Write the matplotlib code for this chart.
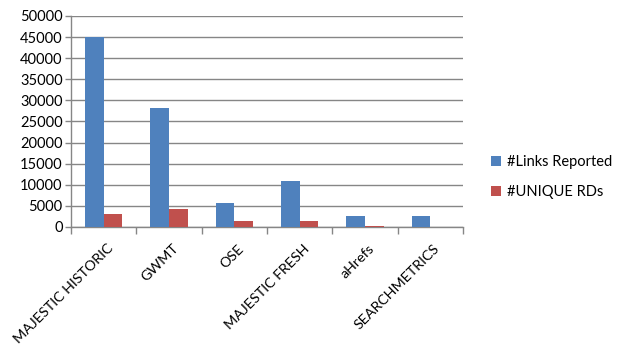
import numpy as np
import matplotlib.pyplot as plt

categories = ['MAJESTIC HISTORIC', 'GWMT', 'OSE', 'MAJESTIC FRESH', 'aHrefs', 'SEARCHMETRICS']
links_reported = [45000, 28300, 5800, 10800, 2500, 2700]
unique_rds = [3100, 4300, 1500, 1500, 300, 0]
series_names = ['#Links Reported', '#UNIQUE RDs']
y_ticks = list(range(0, 50001, 5000))

plt.rcParams['font.family'] = ['Lato', 'DejaVu Sans']

fig = plt.figure(figsize=(6.25, 3.51), dpi=100)
ax = fig.add_axes([71 / 625, 1 - 227 / 351, (463 - 71) / 625, (227 - 16) / 351])

x = np.arange(len(categories))
w = 0.285
ax.bar(x - w / 2, links_reported, w, color='#4F81BD', label=series_names[0], zorder=3)
ax.bar(x + w / 2, unique_rds, w, color='#C0504D', label=series_names[1], zorder=3)

ax.set_xlim(-0.5, len(categories) - 0.5)
ax.set_ylim(0, 50000)
ax.set_yticks(y_ticks)
ax.set_yticklabels([str(v) for v in y_ticks], fontsize=10.5)
ax.yaxis.grid(True, color='#868686', linewidth=1, zorder=0)

# category labels at centres, tick marks at boundaries
ax.set_xticks(x + 0.05)
ax.set_xticklabels(categories, rotation=45, ha='right', rotation_mode='anchor', fontsize=10.3)
ax.tick_params(axis='x', length=0, pad=11)
ax.set_xticks(np.arange(len(categories) + 1) - 0.5, minor=True)
ax.tick_params(axis='x', which='minor', length=5, color='#868686', width=1)
ax.tick_params(axis='y', length=4, color='#868686', width=1, pad=2)

for s in ['top', 'right']:
    ax.spines[s].set_visible(False)
for s in ['left', 'bottom']:
    ax.spines[s].set_color('#868686')
    ax.spines[s].set_linewidth(1)

fig.legend(loc='center left', bbox_to_anchor=(478 / 625, 1 - 177 / 351), frameon=False,
           fontsize=10.5, handlelength=0.7, handleheight=0.7, handletextpad=0.4,
           labelspacing=1.1)

fig.savefig('out.png', dpi=100)
